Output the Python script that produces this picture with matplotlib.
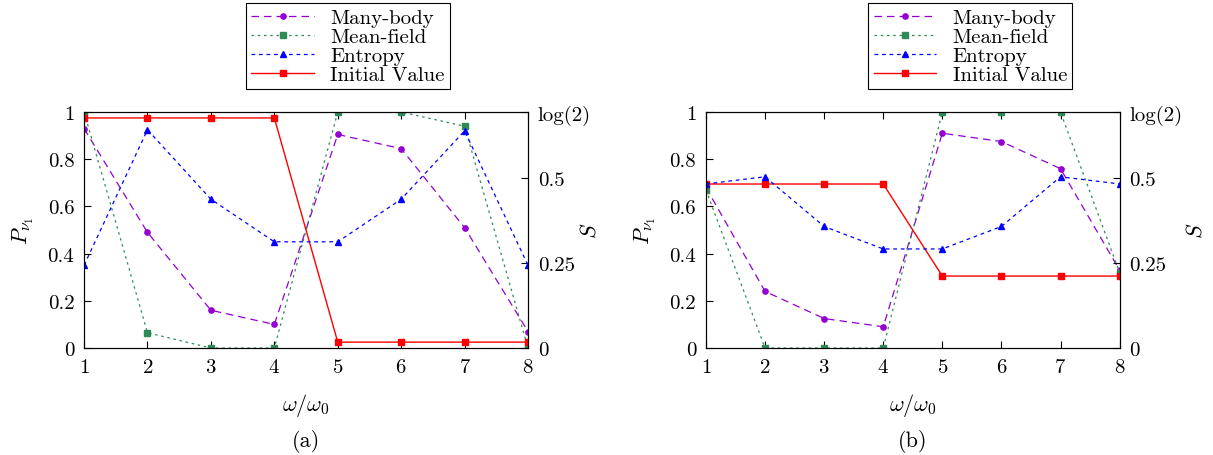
import numpy as np
import matplotlib.pyplot as plt

plt.rcParams['font.family'] = ['cmr10', 'DejaVu Serif']
plt.rcParams['mathtext.fontset'] = 'cm'
plt.rcParams['axes.formatter.use_mathtext'] = True
plt.rcParams['font.size'] = 15

omega = [1, 2, 3, 4, 5, 6, 7, 8]

# panel (a)
mb_a = [0.93, 0.49, 0.16, 0.10, 0.905, 0.845, 0.51, 0.07]
mf_a = [1.0, 0.065, 0.0, 0.0, 1.0, 1.0, 0.94, 0.0]
ent_a = [0.243, 0.641, 0.437, 0.312, 0.312, 0.437, 0.638, 0.243]
init_a = [0.975, 0.975, 0.975, 0.975, 0.025, 0.025, 0.025, 0.025]

# panel (b)
mb_b = [0.68, 0.24, 0.125, 0.09, 0.91, 0.875, 0.76, 0.33]
mf_b = [0.67, 0.0, 0.0, 0.0, 1.0, 1.0, 1.0, 0.32]
ent_b = [0.482, 0.503, 0.357, 0.291, 0.291, 0.357, 0.503, 0.482]
init_b = [0.695, 0.695, 0.695, 0.695, 0.305, 0.305, 0.305, 0.305]

s_ticks = [0, 0.25, 0.5, np.log(2)]
s_labels = ['0', '0.25', '0.5', 'log(2)']

fig = plt.figure(figsize=(12.13, 4.56), dpi=100)


def panel(rect, mb, mf, ent, init, tag, leg_x, s_x):
    ax = fig.add_axes(rect)
    l1, = ax.plot(omega, mb, color='#9400d3', ls=(0, (6, 4)), lw=0.9,
                  marker='o', ms=3.8, label='Many-body')
    l2, = ax.plot(omega, mf, color='#2e8b57', ls=(0, (2, 3)), lw=0.9,
                  marker='s', ms=4.3, label='Mean-field')
    ax2 = ax.twinx()
    l3, = ax2.plot(omega, ent, color='#0000ff', ls=(0, (3, 3)), lw=0.9,
                   marker='^', ms=4, label='Entropy')
    l4, = ax.plot(omega, init, color='#ff0000', ls='-', lw=1.0,
                  marker='s', ms=5, label='Initial Value', zorder=5)
    ax.set_xlim(1, 8)
    ax.set_ylim(0, 1)
    ax2.set_ylim(0, np.log(2))
    ax.set_xticks(omega)
    ax.set_yticks([0, 0.2, 0.4, 0.6, 0.8, 1])
    ax.set_yticklabels(['0', '0.2', '0.4', '0.6', '0.8', '1'])
    ax2.set_yticks(s_ticks)
    ax2.set_yticklabels(s_labels)
    ax.tick_params(direction='in', top=True, right=False, length=5, pad=7)
    ax2.tick_params(direction='in', length=5, pad=7)
    ax.set_xlabel(r'$\omega/\omega_0$', fontsize=16, labelpad=11)
    ax.set_ylabel(r'$P_{\nu_1}$', fontsize=16, labelpad=8)
    # S label for the right axis
    fig.text(s_x, 1 - 231 / 456, r'$S$', rotation=90, ha='center',
             va='center', fontsize=16)
    ax.text(0.5, -0.39, tag, transform=ax.transAxes, ha='center',
            va='center', fontsize=16)
    leg = fig.legend([l1, l2, l3, l4],
                     ['Many-body', 'Mean-field', 'Entropy', 'Initial Value'],
                     loc='upper center', bbox_to_anchor=(leg_x, 1.0),
                     numpoints=1, fancybox=False, framealpha=1,
                     edgecolor='black', fontsize=15, handlelength=3.0,
                     borderpad=0.25, labelspacing=0.02, handletextpad=0.8,
                     borderaxespad=0.2)
    leg.get_frame().set_linewidth(0.8)
    return ax


panel([0.0693, 0.2346, 0.366, 0.5175], mb_a, mf_a, ent_a, init_a, '(a)',
      0.287, 590 / 1213)
panel([0.582, 0.2346, 0.341, 0.5175], mb_b, mf_b, ent_b, init_b, '(b)',
      0.8, 1195 / 1213)

fig.savefig('out.png', dpi=100)
